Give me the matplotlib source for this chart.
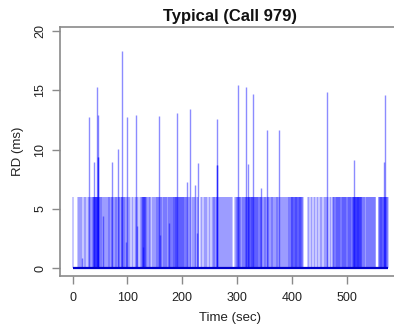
import numpy as np
from matplotlib import pyplot as plt

# band pulses (sec), RD sits around 6 ms
pulse_t = [
    0.3, 9.0, 11.5,
    13.5, 15.5, 18.0, 20.5, 23.0, 25.0, 27.5, 29.8, 32.0, 34.0, 36.0,
    37.2, 37.8, 38.4, 38.9, 39.5, 40.1, 40.7, 41.3, 41.9, 42.5, 43.1, 43.8, 44.4, 45.0, 45.6, 46.2, 46.8, 47.4, 48.0,
    49.5, 51.0, 52.5, 54.5, 56.0, 57.5, 59.5, 61.0, 62.5,
    64.5, 65.8, 67.0, 68.5, 70.0, 71.2, 72.5, 74.0, 75.2, 76.5, 78.5, 79.8, 81.0, 82.7, 84.0, 85.5, 87.0, 88.2,
    89.4, 90.0, 90.6, 91.8, 93.0, 94.5, 96.0, 97.2, 98.5,
    100.5, 103.0, 105.5, 107.5, 110.0, 113.0, 115.0, 117.0, 119.5, 122.0, 124.0, 126.0,
    127.0, 127.6, 128.2, 128.8, 129.4, 130.0, 130.6, 131.2, 131.8, 132.4, 133.0, 133.6,
    135.0, 136.8, 138.5, 140.5, 142.0, 144.5, 146.0, 148.0, 150.0, 151.5, 153.0,
    154.5, 155.7, 157.0, 158.2, 159.5, 160.8, 162.0, 163.5, 164.8, 166.0, 167.2, 168.5, 170.0, 171.2, 172.5,
    173.8, 175.0, 176.2, 177.5, 179.0, 180.2, 181.5, 182.8,
    183.8, 184.6, 185.4, 186.2, 187.0, 187.8, 188.6, 189.4, 190.2, 191.0, 191.8, 192.6, 193.4, 194.2, 195.0,
    196.0, 197.0, 198.0, 199.0, 200.0, 201.0, 202.0, 203.0, 204.0, 205.0, 206.0, 207.0, 208.0,
    210.0, 212.5, 214.7, 217.0, 219.5, 222.0, 224.0, 226.5, 229.0, 234.0, 236.5, 239.0, 241.5, 244.0, 246.0,
    248.5, 251.0, 253.5, 255.5,
    257.0, 258.5, 260.0, 261.5, 262.8, 264.0, 265.5, 267.0, 268.5, 271.0, 273.0, 275.0, 276.5, 278.0, 280.0,
    282.0, 283.5, 285.0, 287.0, 289.0, 291.0, 295.5, 297.5, 299.0,
    300.5, 301.3, 302.2, 303.0, 304.0, 305.0, 306.0, 307.0, 308.5, 310.0, 311.0, 312.0, 313.5, 315.0, 316.0,
    316.8, 317.6, 318.4, 319.2, 320.0, 320.8, 321.6, 322.4, 323.2, 324.0, 324.8, 325.6, 326.4, 327.2, 328.0,
    328.8, 329.6, 330.4, 331.2, 332.0, 333.0, 334.0, 335.0, 336.0, 337.0, 338.0, 339.0, 340.0, 341.0, 342.0,
    343.0, 344.0, 345.0,
    347.0, 348.5, 350.0, 351.5, 353.0, 354.5, 355.5, 356.5, 358.0, 359.5, 361.0, 363.0, 364.5, 366.0, 367.5,
    369.0, 370.5, 372.0, 373.5, 375.0, 377.0, 378.5, 380.0, 382.0, 384.0, 386.0, 388.0, 389.5, 391.0, 392.5,
    394.0, 395.5, 397.0,
    397.8, 398.6, 399.4, 400.2, 401.0, 401.8, 402.6, 403.4, 404.2, 405.0, 405.8, 406.6, 407.4, 408.2, 409.0,
    409.8, 410.6, 411.4, 412.2, 413.0, 413.8, 414.6, 415.4, 416.2, 417.0, 417.8, 418.6, 419.4,
    429.5, 432.0, 434.5, 437.0, 440.0, 442.5, 445.0, 448.0, 450.5, 453.0, 455.5, 458.0, 460.5, 463.0, 464.7,
    466.5, 469.0, 471.5, 474.0,
    475.5, 476.5, 477.5, 478.5, 479.5, 480.5, 481.5, 482.5, 483.5, 484.5, 485.5, 486.5, 487.5, 488.5, 489.5,
    490.5, 491.5, 492.5, 493.5, 494.5, 495.5, 496.5, 497.5, 498.5, 499.5, 500.5, 501.5, 502.5, 503.5, 504.5,
    505.5, 506.5, 507.5, 508.5, 509.5, 510.5,
    511.2, 511.8, 512.4, 513.0, 513.6, 514.2, 514.8, 515.4, 516.0, 516.6, 517.2, 517.8, 518.4, 519.0, 519.6,
    520.2, 520.8, 521.4, 522.0, 522.6, 523.2, 523.8, 524.4, 525.0, 525.6, 526.2, 526.8, 527.4,
    528.5, 529.7, 531.0, 532.2, 533.5, 534.7, 536.0, 537.2, 538.5, 539.7, 541.0, 542.2, 543.5, 544.7, 546.0,
    547.2, 548.5, 549.7, 551.0, 552.2,
    558.5, 559.3, 560.1, 560.9, 561.7, 562.5, 563.3, 564.1, 564.9, 565.7, 566.5, 567.3, 568.1, 568.9, 569.7,
    570.5, 571.3, 572.1, 572.9, 573.7, 574.5,
]
band_rd = 6.0

# lower drops inside the band
short_t = [17.6, 55.0, 97.0, 118.0, 128.0, 160.0, 175.0, 226.0]
short_rd = [0.85, 4.4, 2.2, 3.6, 1.8, 2.8, 3.8, 3.0]

# tall spikes
spike_t = [29.8, 38.9, 43.8, 45.8, 45.8, 46.2, 71.2, 82.7, 90.6, 99.7, 115.0, 158.0, 190.0, 208.0, 214.7,
           223.0, 229.0, 262.8, 262.5, 262.5, 301.7, 316.3, 320.0, 328.5, 344.0, 355.0, 377.0, 464.7,
           513.0, 568.0, 570.6]
spike_rd = [12.8, 9.0, 15.25, 9.4, 9.4, 12.9, 9.0, 10.1, 18.3, 12.8, 12.9, 12.85, 13.1, 7.3, 13.4,
            7.0, 8.9, 12.55, 8.7, 8.7, 15.5, 15.3, 8.8, 14.7, 6.8, 11.65, 11.7, 14.9,
            9.15, 9.0, 14.65]

x_ticks = [0, 100, 200, 300, 400, 500]
y_ticks = [0, 5, 10, 15, 20]

plt.rcParams['font.family'] = ['Liberation Sans', 'DejaVu Sans']

fig = plt.figure(figsize=(3.94, 3.28), dpi=100)
# plot region runs a little past the right edge, like the cropped original
ax = fig.add_axes([60 / 394, 1 - 275.5 / 328, 340.5 / 394, 248.5 / 328])

blue = (0, 0, 1)
ax.vlines(pulse_t, 0, band_rd, color=blue, alpha=0.22, lw=1.4)
ax.vlines(short_t, 0, short_rd, color=blue, alpha=0.45, lw=1.0)
ax.vlines(spike_t, 0, spike_rd, color=blue, alpha=0.45, lw=1.0)
ax.plot([min(pulse_t), max(pulse_t)], [0, 0], color='#0000cc', lw=1.6, solid_capstyle='butt')

ax.set_xlim(-23, 598)
ax.set_ylim(-0.61, 20.35)
ax.set_xticks(x_ticks)
ax.set_yticks(y_ticks)
ax.set_yticklabels([str(v) for v in y_ticks], rotation=90, va='center')

frame = '#8a8a8a'
for side in ax.spines.values():
    side.set_color(frame)
    side.set_linewidth(1.2)
ax.tick_params(colors=frame, labelcolor='#222222', length=6, width=1.0, labelsize=9)
ax.tick_params(axis='x', pad=6)
ax.tick_params(axis='y', pad=4)

ax.set_xlabel('Time (sec)', fontsize=9.5, color='#222222', labelpad=6)
ax.set_ylabel('RD (ms)', fontsize=9.5, color='#222222', labelpad=7)
ax.set_title('Typical (Call 979)', fontsize=12, fontweight='bold', color='#111111', pad=4)

plt.savefig('out.png', dpi=100)
